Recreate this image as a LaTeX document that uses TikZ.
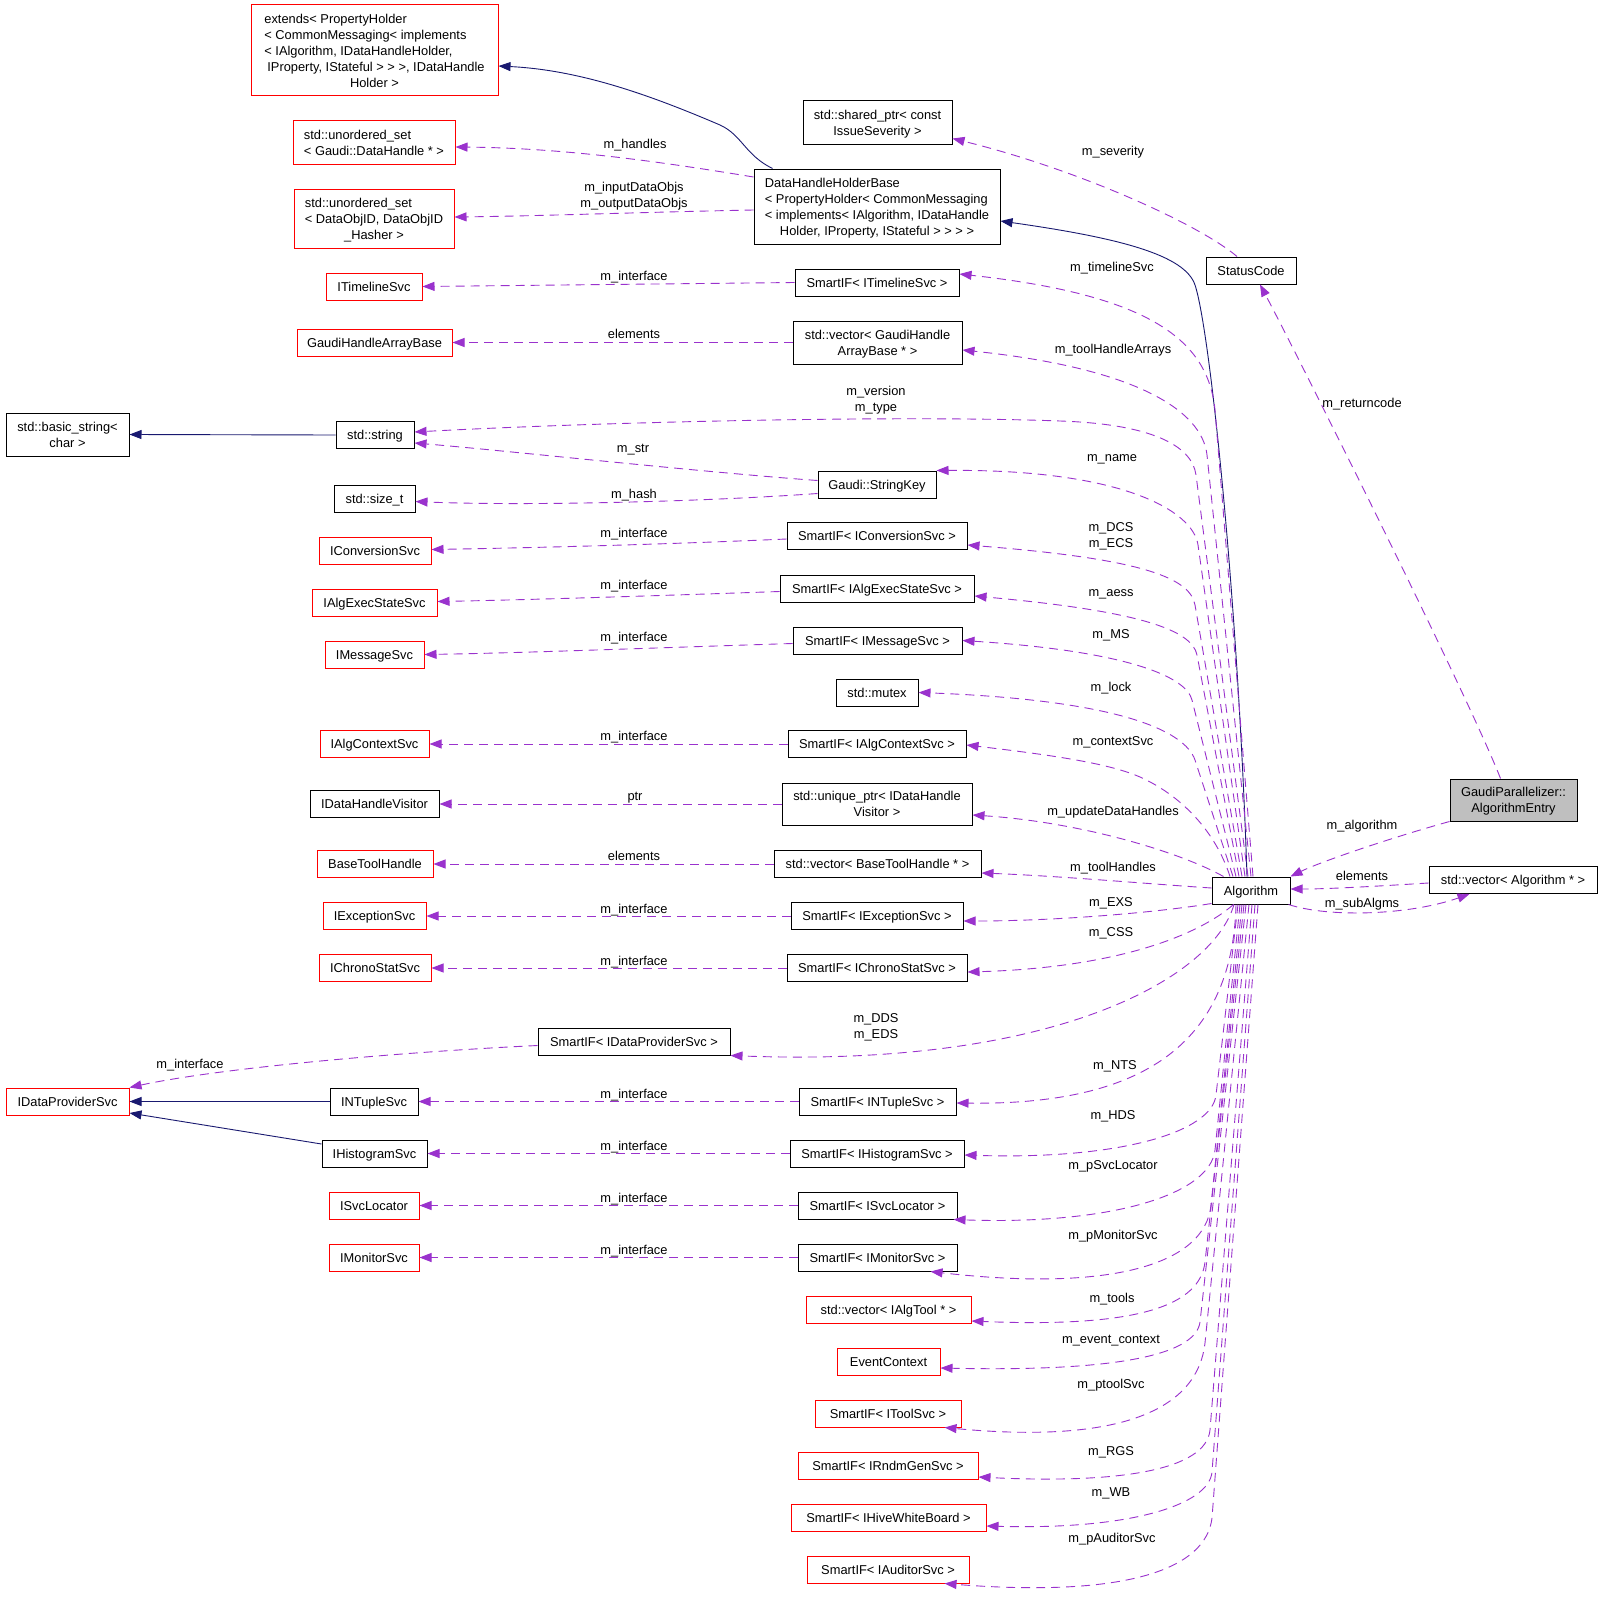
\documentclass[tikz,border=0pt]{standalone}
\usepackage{fontspec}
\setmainfont{Liberation Sans}
\usetikzlibrary{arrows.meta,calc}
\definecolor{depc}{HTML}{9A32CD}
\definecolor{inhc}{HTML}{191970}
\definecolor{boxred}{HTML}{FF0000}
\definecolor{entgray}{HTML}{BFBFBF}
\newcommand\mlines[2]{\begin{tabular}[t]{@{}l@{}}#1\\\multicolumn{1}{@{}c@{}}{#2}\end{tabular}}
\newcommand\clines[1]{\begin{tabular}[t]{@{}c@{}}#1\end{tabular}}
\begin{document}
\begin{tikzpicture}[x=1pt,y=-1pt,
  every node/.style={font=\fontsize{12.85}{16}\selectfont},
  box/.style={draw=black,line width=1pt,inner sep=0pt,text height=9.2pt,text depth=0pt},
  rbox/.style={box,draw=boxred},
  l2/.style={text depth=16pt}, l3/.style={text depth=32pt},
  l4/.style={text depth=48pt}, l5/.style={text depth=64pt},
  lbl/.style={inner sep=0pt,text height=9.2pt,text depth=0pt},
  dep/.style={draw=depc,line width=0.9pt,dash pattern=on 9pt off 6pt,-{Triangle[length=12pt,width=9pt,fill=depc]}},
  inh/.style={draw=inhc,line width=0.9pt,-{Triangle[length=12pt,width=9pt,fill=inhc]}}]
\useasboundingbox (0,0) rectangle (1616,1600);
\fill[white] (0,0) rectangle (1616,1600);
% ---------- left column
\node[rbox,minimum width=247pt,minimum height=91pt,l5] (ext) at (374.5,50.5) {\mlines{extends< PropertyHolder\\< CommonMessaging< implements\\< IAlgorithm, IDataHandleHolder,\\\hspace*{3pt}IProperty, IStateful > > >, IDataHandle}{Holder >}};
\node[rbox,minimum width=162pt,minimum height=43pt,l2] (uhandle) at (374,142.5) {\mlines{std::unordered\_set}{< Gaudi::DataHandle * >}};
\node[rbox,minimum width=160pt,minimum height=59pt,l3] (uobj) at (374,218.5) {\mlines{std::unordered\_set\\< DataObjID, DataObjID}{\_Hasher >}};
\node[rbox,minimum width=96pt,minimum height=27pt] (itl) at (374,286.5) {ITimelineSvc};
\node[rbox,minimum width=155pt,minimum height=27pt] (ghab) at (374.5,342.5) {GaudiHandleArrayBase};
\node[box,minimum width=123pt,minimum height=43pt,l2] (bstr) at (67.5,434.5) {\mlines{std::basic\_string<}{char >}};
\node[box,minimum width=78pt,minimum height=27pt] (str) at (375,435) {std::string};
\node[box,minimum width=81pt,minimum height=27pt] (sizet) at (374.5,498.5) {std::size\_t};
\node[rbox,minimum width=112pt,minimum height=27pt] (iconv) at (375,550.5) {IConversionSvc};
\node[rbox,minimum width=125pt,minimum height=27pt] (iaes) at (374.5,602.5) {IAlgExecStateSvc};
\node[rbox,minimum width=99pt,minimum height=27pt] (imsg) at (374.5,654.5) {IMessageSvc};
\node[rbox,minimum width=109pt,minimum height=27pt] (iactx) at (374.5,744) {IAlgContextSvc};
\node[box,minimum width=129pt,minimum height=27pt] (idhv) at (374.5,804) {IDataHandleVisitor};
\node[rbox,minimum width=116pt,minimum height=27pt] (bth) at (375,864) {BaseToolHandle};
\node[rbox,minimum width=103pt,minimum height=27pt] (iexc) at (374.5,916) {IExceptionSvc};
\node[rbox,minimum width=112pt,minimum height=27pt] (ichr) at (375,968) {IChronoStatSvc};
\node[rbox,minimum width=123pt,minimum height=27pt] (idp) at (67.5,1101.5) {IDataProviderSvc};
\node[box,minimum width=88pt,minimum height=27pt] (intup) at (374,1101.5) {INTupleSvc};
\node[box,minimum width=105pt,minimum height=27pt] (ihist) at (374.5,1153.5) {IHistogramSvc};
\node[rbox,minimum width=90pt,minimum height=27pt] (isvc) at (374,1205.5) {ISvcLocator};
\node[rbox,minimum width=90pt,minimum height=27pt] (imon) at (374,1257.5) {IMonitorSvc};
% ---------- middle column
\node[box,minimum width=246pt,minimum height=75pt,l4] (dhhb) at (877,206.5) {\mlines{DataHandleHolderBase\\< PropertyHolder< CommonMessaging\\< implements< IAlgorithm, IDataHandle}{Holder, IProperty, IStateful > > > >}};
\node[box,minimum width=149pt,minimum height=43pt,l2] (ssev) at (877.5,122.5) {\mlines{std::shared\_ptr< const}{IssueSeverity >}};
\node[box,minimum width=164pt,minimum height=27pt] (stl) at (877,282.5) {SmartIF< ITimelineSvc >};
\node[box,minimum width=169pt,minimum height=43pt,l2] (svgh) at (877.5,342.5) {\mlines{std::vector< GaudiHandle}{ArrayBase * >}};
\node[box,minimum width=118pt,minimum height=27pt] (gsk) at (877,484.5) {Gaudi::StringKey};
\node[box,minimum width=180pt,minimum height=27pt] (sconv) at (877,536) {SmartIF< IConversionSvc >};
\node[box,minimum width=194pt,minimum height=27pt] (saes) at (877,588.5) {SmartIF< IAlgExecStateSvc >};
\node[box,minimum width=169pt,minimum height=27pt] (smsg) at (877.5,640.5) {SmartIF< IMessageSvc >};
\node[box,minimum width=82pt,minimum height=27pt] (mutex) at (877,692.5) {std::mutex};
\node[box,minimum width=178pt,minimum height=27pt] (sactx) at (877,744) {SmartIF< IAlgContextSvc >};
\node[box,minimum width=190pt,minimum height=42pt,l2] (uptr) at (877,804) {\mlines{std::unique\_ptr< IDataHandle}{Visitor >}};
\node[box,minimum width=207pt,minimum height=27pt] (svbth) at (877.5,864) {std::vector< BaseToolHandle * >};
\node[box,minimum width=172pt,minimum height=27pt] (sexc) at (877,916) {SmartIF< IExceptionSvc >};
\node[box,minimum width=180pt,minimum height=27pt] (schr) at (877,968) {SmartIF< IChronoStatSvc >};
\node[box,minimum width=192pt,minimum height=27pt] (sdp) at (634,1041.5) {SmartIF< IDataProviderSvc >};
\node[box,minimum width=157pt,minimum height=27pt] (sntup) at (877.5,1101.5) {SmartIF< INTupleSvc >};
\node[box,minimum width=174pt,minimum height=27pt] (shist) at (877,1153.5) {SmartIF< IHistogramSvc >};
\node[box,minimum width=159pt,minimum height=27pt] (ssvc) at (877.5,1205.5) {SmartIF< ISvcLocator >};
\node[box,minimum width=159pt,minimum height=27pt] (smon) at (877.5,1257.5) {SmartIF< IMonitorSvc >};
\node[rbox,minimum width=165pt,minimum height=27pt] (valg) at (888.5,1309.5) {std::vector< IAlgTool * >};
\node[rbox,minimum width=103pt,minimum height=27pt] (evctx) at (888.5,1361.5) {EventContext};
\node[rbox,minimum width=146pt,minimum height=27pt] (stool) at (888,1413.5) {SmartIF< IToolSvc >};
\node[rbox,minimum width=180pt,minimum height=27pt] (srndm) at (888,1465.5) {SmartIF< IRndmGenSvc >};
\node[rbox,minimum width=195pt,minimum height=27pt] (shive) at (888.5,1517.5) {SmartIF< IHiveWhiteBoard >};
\node[rbox,minimum width=162pt,minimum height=27pt] (saud) at (888,1569.5) {SmartIF< IAuditorSvc >};
% ---------- right column
\node[box,minimum width=90pt,minimum height=27pt] (status) at (1251,270.5) {StatusCode};
\node[box,fill=entgray,minimum width=127pt,minimum height=42pt,l2] (gpae) at (1513.5,800) {\mlines{GaudiParallelizer::}{AlgorithmEntry}};
\node[box,minimum width=78pt,minimum height=27pt] (alg) at (1251,890.5) {Algorithm};
\node[box,minimum width=168pt,minimum height=27pt] (valgo) at (1513,880) {std::vector< Algorithm * >};
% ---------- labels
\node[lbl] (lhandles) at (635,144) {m\_handles};
\node[lbl,l2] (linobj) at (634,194.5) {\clines{m\_inputDataObjs\\m\_outputDataObjs}};
\node[lbl] (litl) at (634,276) {m\_interface};
\node[lbl] (lghab) at (634,334) {elements};
\node[lbl,l2] (lver) at (876,399) {\clines{m\_version\\m\_type}};
\node[lbl] (lstr) at (633,448) {m\_str};
\node[lbl] (lhash) at (634,494) {m\_hash};
\node[lbl] (liconv) at (634,533) {m\_interface};
\node[lbl] (liaes) at (634,585) {m\_interface};
\node[lbl] (limsg) at (634,637) {m\_interface};
\node[lbl] (liactx) at (634,736) {m\_interface};
\node[lbl] (lptr) at (635,796) {ptr};
\node[lbl] (lbth) at (634,856) {elements};
\node[lbl] (liexc) at (634,909) {m\_interface};
\node[lbl] (lichr) at (634,961) {m\_interface};
\node[lbl] (ldp) at (190,1064) {m\_interface};
\node[lbl] (lintup) at (634,1094) {m\_interface};
\node[lbl] (lihist) at (634,1146) {m\_interface};
\node[lbl] (lisvc) at (634,1198) {m\_interface};
\node[lbl] (limon) at (634,1250) {m\_interface};
\node[lbl] (lsev) at (1113,151) {m\_severity};
\node[lbl] (ltl) at (1112,267) {m\_timelineSvc};
\node[lbl] (ltha) at (1113,349) {m\_toolHandleArrays};
\node[lbl] (lname) at (1112,457) {m\_name};
\node[lbl,l2] (ldcs) at (1111,534.5) {\clines{m\_DCS\\m\_ECS}};
\node[lbl] (laess) at (1111,592) {m\_aess};
\node[lbl] (lms) at (1111,634) {m\_MS};
\node[lbl] (llock) at (1111,687) {m\_lock};
\node[lbl] (lctx) at (1113,741) {m\_contextSvc};
\node[lbl] (lupd) at (1113,811) {m\_updateDataHandles};
\node[lbl] (lth) at (1113,867) {m\_toolHandles};
\node[lbl] (lexs) at (1111,902) {m\_EXS};
\node[lbl] (lcss) at (1111,932) {m\_CSS};
\node[lbl,l2] (ldds) at (876,1026) {\clines{m\_DDS\\m\_EDS}};
\node[lbl] (lnts) at (1115,1065) {m\_NTS};
\node[lbl] (lhds) at (1113,1115) {m\_HDS};
\node[lbl] (lpsl) at (1113,1165) {m\_pSvcLocator};
\node[lbl] (lpms) at (1113,1235) {m\_pMonitorSvc};
\node[lbl] (ltools) at (1112,1298) {m\_tools};
\node[lbl] (levc) at (1111,1339) {m\_event\_context};
\node[lbl] (lpts) at (1111,1384) {m\_ptoolSvc};
\node[lbl] (lrgs) at (1111,1451) {m\_RGS};
\node[lbl] (lwb) at (1111,1492) {m\_WB};
\node[lbl] (laud) at (1112,1538) {m\_pAuditorSvc};
\node[lbl] (lret) at (1362,403) {m\_returncode};
\node[lbl] (lalgo) at (1362,825) {m\_algorithm};
\node[lbl] (lelem) at (1362,876) {elements};
\node[lbl] (lsub) at (1362,903) {m\_subAlgms};
% ---------- inheritance
\draw[inh] (str.west) -- (bstr.east);
\draw[inh] (intup.west) -- (idp.east);
\draw[inh] ($(ihist.west)+(0,-9.5)$) -- ($(idp.east)+(0,11.5)$);
\draw[inh] ($(dhhb.north west)+(19,0)$) .. controls (745,155) and (742,135) .. (720,125) .. controls (650,95) and (580,70) .. ($(ext.east)+(0,15.5)$);
\draw[inh] ($(alg.north)+(-4,0)$) .. controls (1238,600) and (1210,330) .. (1195,285) .. controls (1185,255) and (1120,238) .. ($(dhhb.east)+(0,14.5)$);
% ---------- left dependencies
\draw[dep] ($(dhhb.west)+(0,-29.5)$) .. controls (650,160) and (560,148) .. ($(uhandle.east)+(0,4.5)$);
\draw[dep] ($(dhhb.west)+(0,3.5)$) .. controls (650,212) and (540,216) .. ($(uobj.east)+(0,-1.5)$);
\draw[dep] (stl.west) -- (itl.east);
\draw[dep] (svgh.west) -- (ghab.east);
\draw[dep] ($(gsk.west)+(0,-4)$) .. controls (700,472) and (500,450) .. ($(str.east)+(0,8)$);
\draw[dep] ($(gsk.west)+(0,9)$) .. controls (700,502) and (520,506) .. ($(sizet.east)+(0,3)$);
\draw[dep] ($(sconv.west)+(0,3)$) .. controls (650,545) and (520,548) .. ($(iconv.east)+(0,-1)$);
\draw[dep] ($(saes.west)+(0,3)$) .. controls (650,596) and (520,600) .. ($(iaes.east)+(0,-1)$);
\draw[dep] ($(smsg.west)+(0,3)$) .. controls (650,648) and (520,653) .. (imsg.east);
\draw[dep] (sactx.west) -- (iactx.east);
\draw[dep] (uptr.west) -- (idhv.east);
\draw[dep] (svbth.west) -- (bth.east);
\draw[dep] (sexc.west) -- (iexc.east);
\draw[dep] (schr.west) -- (ichr.east);
\draw[dep] ($(sdp.west)+(0,4)$) .. controls (400,1052) and (220,1068) .. (idp.north east);
\draw[dep] (sntup.west) -- (intup.east);
\draw[dep] (shist.west) -- (ihist.east);
\draw[dep] (ssvc.west) -- (isvc.east);
\draw[dep] (smon.west) -- (imon.east);
% ---------- Algorithm dependencies (upper)
\draw[dep] ($(alg.north)+(2,0)$) -- (1215,410) .. controls (1208,340) and (1150,295) .. ($(stl.east)+(0,-8.5)$);
\draw[dep] ($(alg.north)+(0,0)$) -- (1207,455) .. controls (1202,410) and (1135,368) .. ($(svgh.east)+(0,7.5)$);
\draw[dep] ($(alg.north)+(-3,0)$) -- (1196,475) .. controls (1192,445) and (1150,424) .. (1060,421) .. controls (900,415) and (600,422) .. ($(str.east)+(0,-3)$);
\draw[dep] ($(alg.north)+(-6,0)$) -- (1198,545) .. controls (1193,510) and (1120,469) .. (gsk.north east);
\draw[dep] ($(alg.north)+(-9,0)$) -- (1195,605) .. controls (1190,575) and (1130,558) .. ($(sconv.east)+(0,9)$);
\draw[dep] ($(alg.north)+(-12,0)$) -- (1197,655) .. controls (1192,630) and (1140,611) .. ($(saes.east)+(0,7.5)$);
\draw[dep] ($(alg.north)+(-15,0)$) -- (1192,700) .. controls (1186,676) and (1125,651) .. (smsg.east);
\draw[dep] ($(alg.north)+(-18,0)$) -- (1195,760) .. controls (1185,731) and (1120,700) .. (mutex.east);
\draw[dep] ($(alg.north)+(-21,0)$) .. controls (1215,830) and (1180,795) .. (1140,777) .. controls (1110,764) and (1060,756) .. ($(sactx.east)+(0,1)$);
\draw[dep] ($(alg.north west)+(12,0)$) .. controls (1180,852) and (1080,822) .. ($(uptr.east)+(0,11)$);
\draw[dep] ($(alg.west)+(0,-2.5)$) .. controls (1150,884) and (1060,876) .. ($(svbth.east)+(0,9)$);
\draw[dep] ($(alg.south west)+(0,-1)$) .. controls (1160,912) and (1060,921) .. ($(sexc.east)+(0,5)$);
\draw[dep] ($(alg.south west)+(22,0)$) .. controls (1195,938) and (1110,968) .. ($(schr.east)+(0,4)$);
% ---------- Algorithm dependencies (lower)
\draw[dep] ($(alg.south)+(-17,0)$) .. controls (1212,980) and (1050,1068) .. (sdp.south east);
\draw[dep] ($(alg.south)+(-15,0)$) .. controls (1232,1060) and (1120,1105) .. ($(sntup.east)+(0,1.5)$);
\draw[dep] ($(alg.south)+(-13,0)$) -- (1216,1095) .. controls (1212,1132) and (1120,1160) .. ($(shist.east)+(0,1.5)$);
\draw[dep] ($(alg.south)+(-11,0)$) -- (1215,1150) .. controls (1210,1195) and (1110,1225) .. ($(ssvc.south east)+(-4,0)$);
\draw[dep] ($(alg.south)+(-9,0)$) -- (1211,1205) .. controls (1205,1265) and (1110,1292) .. ($(smon.south east)+(-27,0)$);
\draw[dep] ($(alg.south)+(-7,0)$) -- (1205,1262) .. controls (1200,1305) and (1140,1328) .. ($(valg.east)+(0,11.5)$);
\draw[dep] ($(alg.south)+(-5,0)$) -- (1200,1322) .. controls (1196,1352) and (1130,1372) .. ($(evctx.east)+(0,6.5)$);
\draw[dep] ($(alg.south)+(-2,0)$) -- (1205,1343) .. controls (1198,1405) and (1130,1445) .. ($(stool.south east)+(-17,0)$);
\draw[dep] ($(alg.south)+(1,0)$) -- (1210,1430) .. controls (1206,1470) and (1120,1484) .. ($(srndm.east)+(0,11.5)$);
\draw[dep] ($(alg.south)+(4,0)$) -- (1212,1472) .. controls (1209,1505) and (1130,1530) .. ($(shive.east)+(0,8.5)$);
\draw[dep] ($(alg.south)+(7,0)$) -- (1212,1518) .. controls (1206,1568) and (1130,1598) .. ($(saud.south east)+(-25,0)$);
% ---------- right side
\draw[dep] (gpae.south west) .. controls (1390,838) and (1320,862) .. (alg.north east);
\draw[dep] ($(valgo.west)+(0,3)$) .. controls (1380,886) and (1330,889) .. ($(alg.east)+(0,-1.5)$);
\draw[dep] ($(alg.south east)+(-2,0)$) .. controls (1330,918) and (1410,915) .. ($(valgo.south west)+(41,0)$);
\draw[dep] ($(status.north)+(-14,0)$) .. controls (1200,225) and (1080,170) .. ($(ssev.east)+(0,16)$);
\draw[dep] ($(gpae.north)+(-13,0)$) .. controls (1470,700) and (1300,360) .. ($(status.south)+(9,0)$);
\end{tikzpicture}
\end{document}
